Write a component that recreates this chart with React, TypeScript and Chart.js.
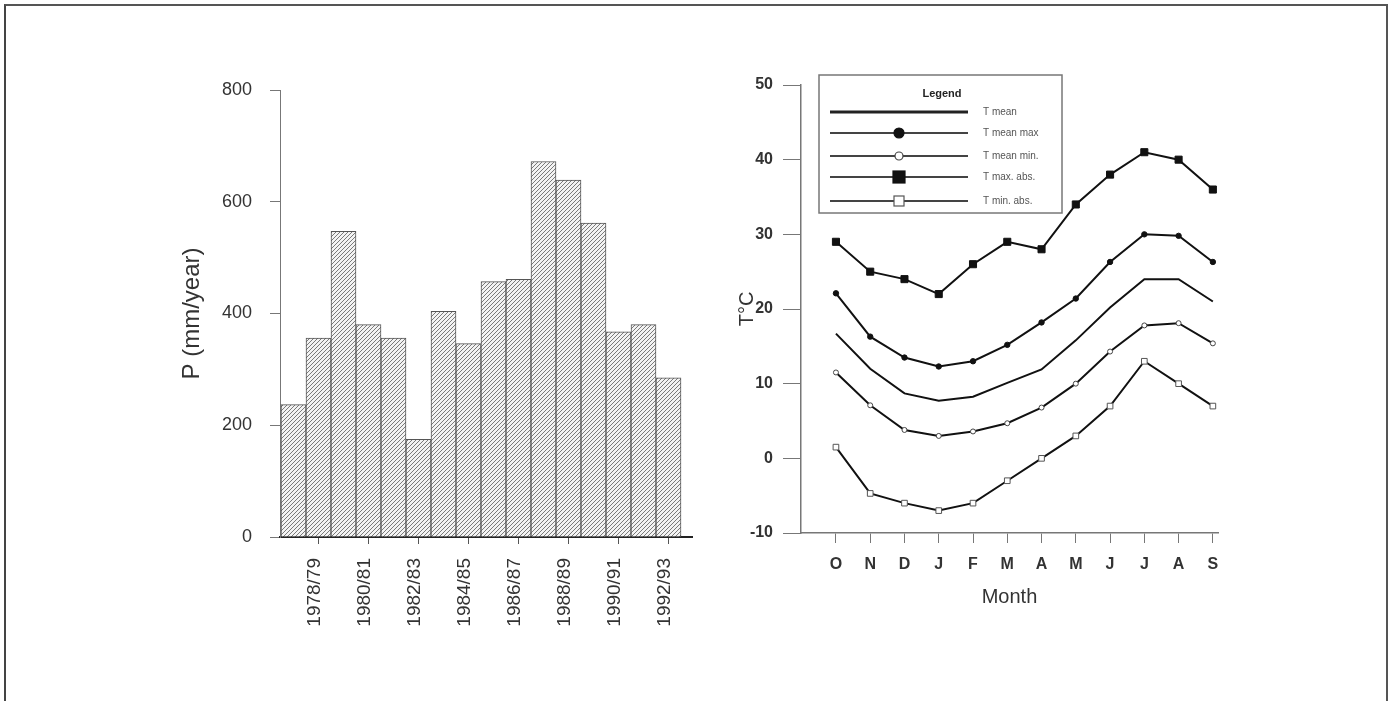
import React, { useEffect, useRef } from 'react';
import { Chart, registerables } from 'chart.js';

Chart.register(...registerables);

const FONT = '"Liberation Sans", Arial, Helvetica, sans-serif';

// ---- Precipitation (left chart) ----
const seasons = [
  '1977/78', '1978/79', '1979/80', '1980/81', '1981/82', '1982/83', '1983/84', '1984/85',
  '1985/86', '1986/87', '1987/88', '1988/89', '1989/90', '1990/91', '1991/92', '1992/93',
];
const precipitation = [237, 356, 547, 380, 356, 175, 404, 346, 457, 461, 672, 639, 562, 367, 380, 285];
const labeledSeasonIdx = [1, 3, 5, 7, 9, 11, 13, 15];
const pTicks = [0, 200, 400, 600, 800];

// ---- Temperature (right chart) ----
const months = ['O', 'N', 'D', 'J', 'F', 'M', 'A', 'M', 'J', 'J', 'A', 'S'];
const tMean = [16.7, 12.0, 8.7, 7.7, 8.25, 10.1, 11.9, 15.8, 20.2, 24.0, 24.0, 21.0];
const tMeanMax = [22.1, 16.3, 13.5, 12.3, 13.0, 15.2, 18.2, 21.4, 26.3, 30.0, 29.8, 26.3];
const tMeanMin = [11.5, 7.1, 3.8, 3.0, 3.6, 4.7, 6.8, 10.0, 14.3, 17.8, 18.1, 15.4];
const tMaxAbs = [29, 25, 24, 22, 26, 29, 28, 34, 38, 41, 40, 36];
const tMinAbs = [1.5, -4.7, -6, -7, -6, -3, 0, 3, 7, 13, 10, 7];
const seriesLabels = ['T mean', 'T mean max', 'T mean min.', 'T max. abs.', 'T min. abs.'];
const tTicks = [-10, 0, 10, 20, 30, 40, 50];

function makeHatch(): CanvasPattern | string {
  const n = 4;
  const c = document.createElement('canvas');
  c.width = n;
  c.height = n;
  const g = c.getContext('2d');
  if (!g) return '#ddd';
  g.fillStyle = '#f3f3f3';
  g.fillRect(0, 0, n, n);
  g.strokeStyle = '#7a7a7a';
  g.lineWidth = 1;
  g.beginPath();
  g.moveTo(-1, n + 1);
  g.lineTo(n + 1, -1);
  g.moveTo(-1, 1);
  g.lineTo(1, -1);
  g.moveTo(n - 1, n + 1);
  g.lineTo(n + 1, n - 1);
  g.stroke();
  return g.createPattern(c, 'repeat') || '#ddd';
}

const boxLegend = {
  id: 'boxLegend',
  afterDraw(chart: any) {
    const { ctx, chartArea } = chart;
    const bx = chartArea.left + 18;
    const by = chartArea.top - 10;
    const bw = 243;
    const bh = 138;
    ctx.save();
    ctx.fillStyle = '#ffffff';
    ctx.fillRect(bx, by, bw, bh);
    ctx.strokeStyle = '#777';
    ctx.lineWidth = 1.5;
    ctx.strokeRect(bx, by, bw, bh);
    ctx.fillStyle = '#222';
    ctx.font = `bold 11px ${FONT}`;
    ctx.textAlign = 'center';
    ctx.textBaseline = 'middle';
    ctx.fillText('Legend', bx + 123, by + 19);
    const rowYs = [37, 58, 81, 102, 126];
    const x0 = bx + 11;
    const x1 = bx + 149;
    const mx = bx + 80;
    chart.data.datasets.forEach((ds: any, i: number) => {
      const y = by + rowYs[i];
      ctx.strokeStyle = i === 0 ? '#222' : '#444';
      ctx.lineWidth = i === 0 ? 3 : 2;
      ctx.beginPath();
      ctx.moveTo(x0, y);
      ctx.lineTo(x1, y);
      ctx.stroke();
      const r = ds.pointRadius || 0;
      if (r > 0) {
        ctx.lineWidth = 1.2;
        ctx.fillStyle = ds.pointBackgroundColor;
        ctx.strokeStyle = ds.pointBorderColor;
        if (ds.pointStyle === 'circle') {
          const rr = ds.pointBackgroundColor === '#ffffff' ? 4 : 5;
          ctx.beginPath();
          ctx.arc(mx, y, rr, 0, Math.PI * 2);
          ctx.fill();
          ctx.stroke();
        } else {
          const s = ds.pointBackgroundColor === '#ffffff' ? 10 : 12;
          ctx.fillRect(mx - s / 2, y - s / 2, s, s);
          ctx.strokeRect(mx - s / 2, y - s / 2, s, s);
        }
      }
      ctx.fillStyle = '#555';
      ctx.font = `10px ${FONT}`;
      ctx.textAlign = 'left';
      ctx.textBaseline = 'middle';
      ctx.fillText(ds.label, bx + 164, y);
    });
    ctx.restore();
  },
};

function PrecipChart() {
  const ref = useRef<HTMLCanvasElement>(null);
  useEffect(() => {
    if (!ref.current) return;
    const chart = new Chart(ref.current, {
      type: 'bar',
      data: {
        datasets: [
          {
            label: 'P',
            data: precipitation.map((v, i) => ({ x: i, y: v })),
            backgroundColor: makeHatch() as any,
            borderColor: '#555',
            borderWidth: 1,
            barPercentage: 1,
            categoryPercentage: 1,
          } as any,
        ],
      },
      options: {
        responsive: false,
        animation: false,
        layout: { padding: { left: 170, top: 90, right: 28, bottom: 64 } },
        plugins: { legend: { display: false }, tooltip: { enabled: false } },
        scales: {
          x: {
            type: 'linear',
            min: -0.54,
            max: 15.94,
            offset: false,
            afterBuildTicks: (s: any) => {
              s.ticks = labeledSeasonIdx.map((v) => ({ value: v }));
            },
            afterFit: (s: any) => {
              s.height = 100;
            },
            grid: { display: true, offset: false, drawOnChartArea: false, drawTicks: true, tickLength: 7, color: '#555', lineWidth: 1 },
            border: { display: true, color: '#222', width: 2 },
            ticks: {
              autoSkip: false,
              minRotation: 90,
              maxRotation: 90,
              padding: 14,
              labelOffset: -4,
              color: '#333',
              font: { family: FONT, size: 19 },
              callback: (v: any) => seasons[v] ?? '',
            },
          } as any,
          y: {
            type: 'linear',
            min: 0,
            max: 800,
            afterBuildTicks: (s: any) => {
              s.ticks = pTicks.map((v) => ({ value: v }));
            },
            afterFit: (s: any) => {
              s.width = 110;
            },
            grid: { display: true, drawOnChartArea: false, drawTicks: true, tickLength: 10, color: '#777' },
            border: { display: true, color: '#777', width: 1 },
            ticks: { padding: 18, color: '#333', font: { family: FONT, size: 18 } },
            title: { display: true, text: 'P (mm/year)', color: '#333', font: { family: FONT, size: 24 }, padding: { top: 8, bottom: 0 } },
          } as any,
        },
      },
    });
    return () => chart.destroy();
  }, []);
  return <canvas ref={ref} width={720} height={701} style={{ position: 'absolute', left: 0, top: 0, width: 720, height: 701 }} />;
}

function TempChart() {
  const ref = useRef<HTMLCanvasElement>(null);
  useEffect(() => {
    if (!ref.current) return;
    const series = [tMean, tMeanMax, tMeanMin, tMaxAbs, tMinAbs];
    const styles = [
      { pointRadius: 0, pointStyle: 'circle', pointBackgroundColor: '#111', pointBorderColor: '#111' },
      { pointRadius: 2.7, pointStyle: 'circle', pointBackgroundColor: '#111', pointBorderColor: '#111' },
      { pointRadius: 2.5, pointStyle: 'circle', pointBackgroundColor: '#ffffff', pointBorderColor: '#444' },
      { pointRadius: 5, pointStyle: 'rect', pointBackgroundColor: '#111', pointBorderColor: '#111' },
      { pointRadius: 4, pointStyle: 'rect', pointBackgroundColor: '#ffffff', pointBorderColor: '#555' },
    ];
    const chart = new Chart(ref.current, {
      type: 'line',
      data: {
        datasets: series.map((vals, i) => ({
          label: seriesLabels[i],
          data: vals.map((v, j) => ({ x: j, y: v })),
          borderColor: '#111',
          borderWidth: 2,
          tension: 0,
          fill: false,
          pointBorderWidth: 1,
          ...styles[i],
        })) as any,
      },
      options: {
        responsive: false,
        animation: false,
        layout: { padding: { left: 15, top: 85, right: 174, bottom: 78 } },
        plugins: { legend: { display: false }, tooltip: { enabled: false } },
        scales: {
          x: {
            type: 'linear',
            min: -1.02,
            max: 11.15,
            afterBuildTicks: (s: any) => {
              s.ticks = months.map((_, i) => ({ value: i }));
            },
            afterFit: (s: any) => {
              s.height = 90;
            },
            grid: { display: true, drawOnChartArea: false, drawTicks: true, tickLength: 10, color: '#777' },
            border: { display: true, color: '#777', width: 1.5 },
            ticks: {
              autoSkip: false,
              maxRotation: 0,
              padding: 12,
              color: '#333',
              font: { family: FONT, size: 16, weight: 'bold' },
              callback: (v: any) => months[v] ?? '',
            },
            title: { display: true, text: 'Month', color: '#333', font: { family: FONT, size: 20 }, padding: { top: 0, bottom: 14 } },
          } as any,
          y: {
            type: 'linear',
            min: -10,
            max: 50,
            afterBuildTicks: (s: any) => {
              s.ticks = tTicks.map((v) => ({ value: v }));
            },
            afterFit: (s: any) => {
              s.width = 66;
            },
            grid: { display: true, drawOnChartArea: false, drawTicks: true, tickLength: 18, color: '#777' },
            border: { display: true, color: '#777', width: 1.5 },
            ticks: { padding: 10, color: '#333', font: { family: FONT, size: 16, weight: 'bold' } },
            title: { display: true, text: 'T°C', color: '#333', font: { family: FONT, size: 20 }, padding: { top: 0, bottom: 0 } },
          } as any,
        },
      },
      plugins: [boxLegend],
    });
    return () => chart.destroy();
  }, []);
  return <canvas ref={ref} width={672} height={701} style={{ position: 'absolute', left: 720, top: 0, width: 672, height: 701 }} />;
}

export default function App() {
  return (
    <div style={{ position: 'absolute', left: 0, top: 0, width: 1392, height: 701, overflow: 'hidden', background: '#fff' }}>
      <div
        style={{
          position: 'absolute',
          left: 4,
          top: 4,
          width: 1380,
          height: 720,
          borderTop: '2px solid #555',
          borderLeft: '2px solid #444',
          borderRight: '2px solid #555',
        }}
      />
      <PrecipChart />
      <TempChart />
    </div>
  );
}
